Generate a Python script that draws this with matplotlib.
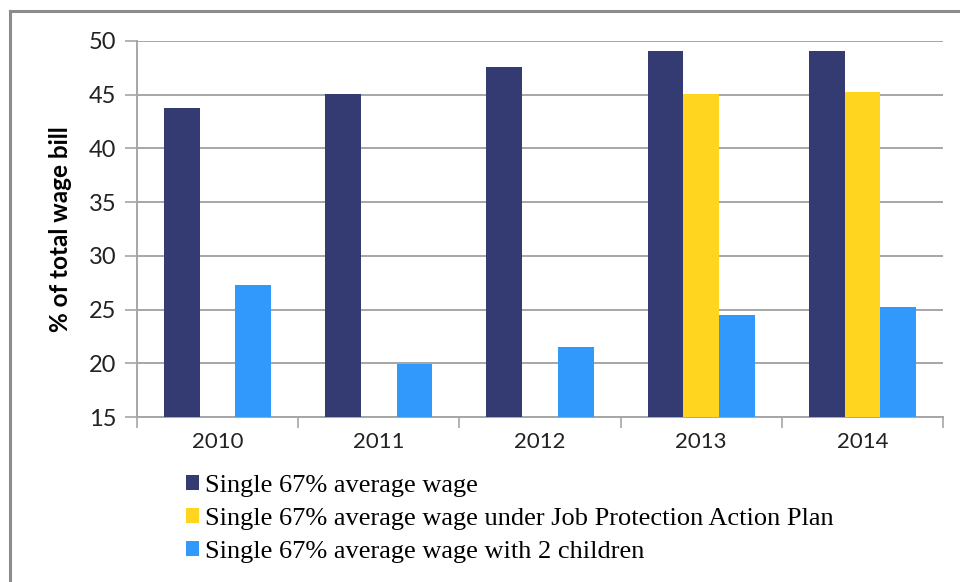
import numpy as np
import matplotlib
matplotlib.use("Agg")
import matplotlib.pyplot as plt
from matplotlib.lines import Line2D

years = ["2010", "2011", "2012", "2013", "2014"]
single_avg = [43.8, 45.1, 47.6, 49.05, 49.05]
single_jpap = [np.nan, np.nan, np.nan, 45.1, 45.25]
single_2kids = [27.25, 19.95, 21.55, 24.5, 25.2]
series_names = [
    "Single 67% average wage",
    "Single 67% average wage under Job Protection Action Plan",
    "Single 67% average wage with 2 children",
]
colors = ["#343B72", "#FFD520", "#3199FC"]

plt.rcParams["font.family"] = ["Lato", "DejaVu Sans"]

fig = plt.figure(figsize=(9.6, 5.82), dpi=100)
ax = fig.add_axes([0.1427, 0.2835, 0.8396, 0.6461])

x = np.arange(len(years))
w = 0.222
for i, vals in enumerate([single_avg, single_jpap, single_2kids]):
    ax.bar(x + (i - 1) * w, np.array(vals) - 15, width=w, bottom=15,
           color=colors[i], label=series_names[i], zorder=3)

ax.set_ylim(15, 50)
ax.set_xlim(-0.5, len(years) - 0.5)
ax.set_yticks(range(15, 51, 5))
ax.yaxis.grid(True, color="#A6A6A6", linewidth=1.4, zorder=0)
ax.tick_params(axis="y", length=9, color="#A6A6A6", width=1.2, labelsize=17, pad=6, labelcolor="#222222")
ax.set_xticks(x)
ax.set_xticklabels(years)
ax.set_xticks(np.arange(-0.5, len(years), 1), minor=True)
ax.tick_params(axis="x", which="major", length=0, labelsize=16, pad=11, labelcolor="#222222")
ax.tick_params(axis="x", which="minor", length=8, color="#A6A6A6", width=1.2)
for side in ["top", "right"]:
    ax.spines[side].set_visible(False)
for side in ["left", "bottom"]:
    ax.spines[side].set_color("#A6A6A6")
    ax.spines[side].set_linewidth(1.4)
ax.set_ylabel("% of total wage bill", fontsize=17.5, fontweight="bold", labelpad=12)

leg = fig.legend(loc="upper left", bbox_to_anchor=(0.183, 0.202), frameon=False,
                 prop={"family": "Liberation Serif", "size": 19},
                 handlelength=0.48, handleheight=0.48, handletextpad=0.25,
                 labelspacing=0.42, borderaxespad=0)

# outer chart frame (top and left edges visible)
fig.add_artist(Line2D([10 / 960, 1.0], [1 - 11 / 582, 1 - 11 / 582],
                      transform=fig.transFigure, color="#8C8C8C", linewidth=2.2))
fig.add_artist(Line2D([10 / 960, 10 / 960], [0.0, 1 - 11 / 582],
                      transform=fig.transFigure, color="#8C8C8C", linewidth=2.2))

fig.savefig("out.png", dpi=100)
